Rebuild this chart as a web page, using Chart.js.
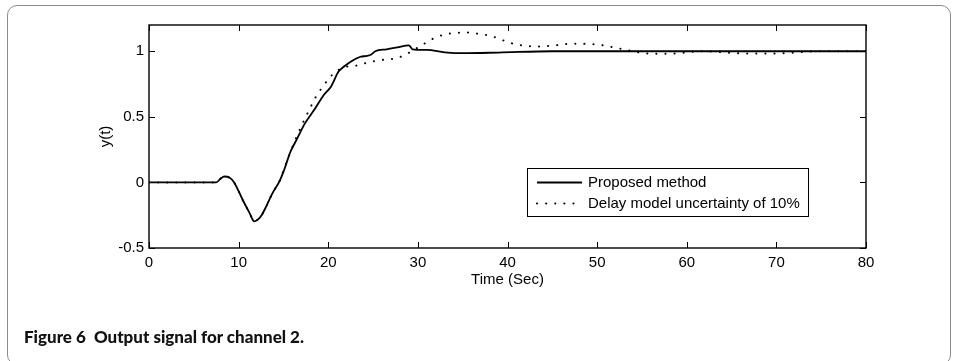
<!DOCTYPE html>
<html>
<head>
<meta charset="utf-8">
<script src="https://cdn.jsdelivr.net/npm/chart.js@4.4.0/dist/chart.umd.min.js"></script>
<style>
  html, body { margin: 0; padding: 0; background: #ffffff; }
  #wrap { position: relative; width: 955px; height: 361px; overflow: hidden; background: #fff; }
  #frame { position: absolute; left: 7px; top: 5px; width: 944px; height: 360px; border: 1.5px solid #8c8c8c; border-radius: 10px; box-sizing: border-box; }
  #c { position: absolute; left: 0; top: 0; }
  #caption { position: absolute; left: 24px; top: 326px; font-family: "Lato", "Open Sans", sans-serif; font-weight: 900; font-size: 17px; color: #111; white-space: pre; transform-origin: 0 0; }
</style>
</head>
<body>
<div id="wrap">
  <div id="frame"></div>
  <canvas id="c" width="955" height="361"></canvas>
  <div id="caption">Figure 6  Output signal for channel 2.</div>
</div>
<script>
// ---- data ----
const xTicks = [0, 10, 20, 30, 40, 50, 60, 70, 80];
const yTicks = [-0.5, 0, 0.5, 1];

const seriesNames = ["Proposed method", "Delay model uncertainty of 10%"];

const tSolid = [0, 7.5, 8.0, 8.4, 9.0, 9.5, 10.5, 11.2, 11.75, 12.2, 12.6, 13.1, 13.6, 14.0, 14.5, 15.0, 15.8, 16.5, 17.4, 18.0, 18.5, 19.5, 20.3, 21.15, 21.8, 22.5, 23.6, 24.3, 24.8, 25.25, 26.5, 27.7, 29.0, 29.4, 31.0, 33.0, 35.0, 39.0, 45.0, 55.0, 80.0];
const ySolid = [0, 0, 0.03, 0.045, 0.035, 0.0, -0.14, -0.23, -0.297, -0.28, -0.246, -0.18, -0.106, -0.055, 0.0, 0.08, 0.236, 0.33, 0.45, 0.51, 0.56, 0.667, 0.73, 0.845, 0.885, 0.92, 0.958, 0.964, 0.975, 1.0, 1.015, 1.03, 1.045, 1.015, 1.01, 0.992, 0.985, 0.99, 1.0, 1.0, 1.0];

const tDelay = [0, 7.5, 8.0, 8.4, 9.0, 9.5, 10.5, 11.2, 11.75, 12.2, 12.6, 13.1, 13.6, 14.0, 14.5, 15.0, 16.0, 17.0, 18.0, 18.6, 19.5, 20.3, 21.2, 22.1, 23.1, 24.1, 25.25, 26.5, 27.5, 28.5, 29.3, 30.3, 31.1, 31.8, 32.8, 33.8, 34.8, 35.8, 36.8, 38.0, 39.2, 40.1, 41.1, 42.2, 43.2, 44.4, 45.6, 46.6, 47.7, 48.7, 49.7, 50.8, 51.9, 52.9, 53.9, 55.0, 56.0, 57.5, 59.0, 60.5, 62.0, 63.5, 65.0, 67.0, 69.0, 71.0, 73.0, 75.0, 80.0];
const yDelay = [0, 0, 0.03, 0.045, 0.035, 0.0, -0.14, -0.23, -0.297, -0.28, -0.246, -0.18, -0.106, -0.055, 0.0, 0.09, 0.27, 0.43, 0.57, 0.65, 0.74, 0.81, 0.86, 0.883, 0.89, 0.908, 0.926, 0.938, 0.945, 0.97, 1.0, 1.04, 1.073, 1.099, 1.124, 1.137, 1.142, 1.142, 1.132, 1.119, 1.091, 1.068, 1.05, 1.04, 1.035, 1.04, 1.047, 1.055, 1.057, 1.056, 1.053, 1.043, 1.028, 1.015, 1.002, 0.987, 0.982, 0.981, 0.985, 0.995, 1.0, 0.995, 0.987, 0.982, 0.982, 0.985, 0.995, 1.0, 1.0];

const toPoints = (xs, ys) => xs.map((x, i) => ({ x: x, y: ys[i] }));

const FONT = "'Liberation Sans', Arial, sans-serif";

// inward ticks, full frame and legend box
const framePlugin = {
  id: 'framePlugin',
  afterDraw(chart) {
    const ctx = chart.ctx;
    const a = chart.chartArea;
    const xs = chart.scales.x, ys = chart.scales.y;
    ctx.save();
    ctx.strokeStyle = '#000';
    ctx.lineWidth = 1;
    ctx.beginPath();
    xTicks.forEach(v => {
      const px = Math.round(xs.getPixelForValue(v)) + 0.5;
      ctx.moveTo(px, a.bottom); ctx.lineTo(px, a.bottom - 6);
      ctx.moveTo(px, a.top); ctx.lineTo(px, a.top + 6);
    });
    yTicks.forEach(v => {
      const py = Math.round(ys.getPixelForValue(v)) + 0.5;
      ctx.moveTo(a.left, py); ctx.lineTo(a.left + 6, py);
      ctx.moveTo(a.right, py); ctx.lineTo(a.right - 6, py);
    });
    ctx.stroke();
    ctx.lineWidth = 1.4;
    ctx.strokeRect(a.left, a.top, a.right - a.left, a.bottom - a.top);

    // legend
    const lx = 527, ly = 168, lw = 281, lh = 48;
    ctx.fillStyle = '#fff';
    ctx.fillRect(lx, ly, lw, lh);
    ctx.lineWidth = 1;
    ctx.strokeStyle = '#000';
    ctx.strokeRect(lx + 0.5, ly + 0.5, lw, lh);
    const rows = [182, 203];
    chart.data.datasets.forEach((ds, i) => {
      ctx.save();
      ctx.strokeStyle = ds.borderColor;
      ctx.lineWidth = ds.borderWidth;
      ctx.lineCap = ds.borderCapStyle || 'butt';
      ctx.setLineDash(ds.borderDash || []);
      ctx.beginPath();
      ctx.moveTo(537, rows[i] + 0.5);
      ctx.lineTo(582, rows[i] + 0.5);
      ctx.stroke();
      ctx.restore();
      ctx.fillStyle = '#000';
      ctx.font = "15px " + FONT;
      ctx.textBaseline = 'middle';
      ctx.textAlign = 'left';
      ctx.fillText(ds.label, 588, rows[i] + 1);
    });
    ctx.restore();
  }
};

new Chart(document.getElementById('c'), {
  type: 'line',
  data: {
    datasets: [
      {
        label: seriesNames[0],
        data: toPoints(tSolid, ySolid),
        borderColor: '#000',
        borderWidth: 1.8,
        pointRadius: 0,
        cubicInterpolationMode: 'monotone',
        fill: false
      },
      {
        label: seriesNames[1],
        data: toPoints(tDelay, yDelay),
        borderColor: '#000',
        borderWidth: 2,
        borderDash: [0.1, 9],
        borderCapStyle: 'round',
        pointRadius: 0,
        cubicInterpolationMode: 'monotone',
        fill: false
      }
    ]
  },
  options: {
    responsive: false,
    animation: false,
    events: [],
    layout: { padding: { left: 97, right: 89, top: 25, bottom: 72 } },
    plugins: { legend: { display: false }, tooltip: { enabled: false } },
    scales: {
      x: {
        type: 'linear', min: 0, max: 80,
        afterBuildTicks: s => { s.ticks = xTicks.map(v => ({ value: v })); },
        afterFit: s => { s.height = 41; },
        grid: { drawOnChartArea: false, drawTicks: false },
        border: { display: false },
        ticks: { padding: 6, color: '#000', font: { family: FONT, size: 15 }, maxRotation: 0, callback: v => String(v) },
        title: { display: true, text: 'Time (Sec)', color: '#000', padding: { top: 0, bottom: 0 }, font: { family: FONT, size: 15, lineHeight: 1.2 } }
      },
      y: {
        type: 'linear', min: -0.5, max: 1.2,
        afterBuildTicks: s => { s.ticks = yTicks.map(v => ({ value: v })); },
        afterFit: s => { s.width = 52; },
        grid: { drawOnChartArea: false, drawTicks: false },
        border: { display: false },
        ticks: { padding: 5, color: '#000', font: { family: FONT, size: 15 }, callback: v => String(v) },
        title: { display: true, text: 'y(t)', color: '#000', padding: { top: 0, bottom: 0 }, font: { family: FONT, size: 15, lineHeight: 1.2 } }
      }
    }
  },
  plugins: [framePlugin]
});

// fit caption width to the reference
const cap = document.getElementById('caption');
const w = cap.getBoundingClientRect().width;
cap.style.transform = 'scaleX(' + (280 / w) + ')';
</script>
</body>
</html>
